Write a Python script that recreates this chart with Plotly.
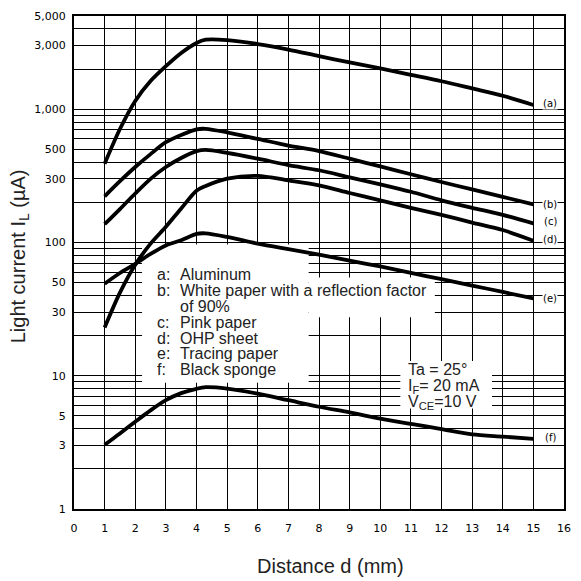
import math
import plotly.graph_objects as go

# distance d (mm) and light current IL (uA)
distance = [1, 1.5, 2, 2.5, 3, 3.5, 4, 4.3, 5, 6, 7, 8, 9, 10, 11, 12, 13, 14, 15]
aluminum = [390, 710, 1153, 1625, 2100, 2640, 3140, 3320, 3300, 3080, 2800, 2500, 2240, 2020, 1810, 1620, 1430, 1260, 1075]
white_paper = [222, 288, 368, 460, 565, 640, 705, 712, 670, 598, 533, 485, 425, 372, 325, 284, 250, 220, 193]
pink_paper = [137, 178, 233, 300, 368, 430, 484, 495, 470, 425, 380, 348, 308, 273, 240, 207, 182, 161, 139]
ohp_sheet = [23, 42, 68, 98, 131, 180, 244, 265, 301, 316, 292, 268, 235, 207, 182, 161, 141, 124, 103]
tracing_paper = [49, 59, 69, 82, 95, 104, 116, 117, 110, 98, 89, 81, 73, 66, 59, 53, 47.5, 42.5, 38]
black_sponge = [3.03, 3.69, 4.52, 5.5, 6.55, 7.4, 7.98, 8.2, 8.0, 7.33, 6.55, 5.85, 5.3, 4.77, 4.35, 3.98, 3.63, 3.49, 3.36]

curves = [aluminum, white_paper, pink_paper, ohp_sheet, tracing_paper, black_sponge]
curve_tags = ["(a)", "(b)", "(c)", "(d)", "(e)", "(f)"]
tag_y_px = [101, 203, 220, 238, 297, 437]

legend_keys = ["a:", "b:", "", "c:", "d:", "e:", "f:"]
legend_texts = ["Aluminum", "White paper with a reflection factor", "of 90%",
                "Pink paper", "OHP sheet", "Tracing paper", "Black sponge"]
legend_y_px = [273, 289.5, 305.5, 321, 337, 353, 369]

cond_texts = ["Ta = 25°", "I<sub>F</sub>= 20 mA", "V<sub>CE</sub>=10 V"]
cond_y_px = [369, 386, 402]

x_ticks = list(range(0, 17))
y_major = [1, 3, 5, 10, 30, 50, 100, 300, 500, 1000, 3000, 5000]
y_major_text = ["1", "3", "5", "10", "30", "50", "100", "300", "500", "1,000", "3,000", "5,000"]
y_minor = [m * 10 ** e for e in range(0, 4) for m in range(1, 10) if m * 10 ** e < 5000]
y_minor = [v for v in y_minor + [4000] if v not in y_major]

W, H = 581, 581
L, R, T, B = 74, 10, 13, 72
pw, ph = W - L - R, H - T - B
YTOP = math.log10(5000)


def px(x):
    return (x - L) / pw


def py(y):
    return (H - B - y) / ph


def dx(x):
    return (x - L) / pw * 16


def dy(y):
    return 10 ** ((H - B - y) / ph * YTOP)


fig = go.Figure()
for vals in curves:
    fig.add_trace(go.Scatter(x=distance, y=vals, mode="lines",
                             line=dict(color="black", width=3.8, shape="spline", smoothing=0.8),
                             showlegend=False, hoverinfo="skip"))

# white patches behind the text blocks (grid hidden, curves kept)
shapes = []
for x0, x1, y0, y1 in [(143, 312, 243, 382), (312, 440, 276, 316), (405, 498, 360, 408)]:
    shapes.append(dict(type="rect", xref="x", yref="y", layer="between",
                       x0=dx(x0), x1=dx(x1), y0=dy(y1), y1=dy(y0),
                       fillcolor="white", line=dict(width=0)))

ann = []
txt_font = dict(family="Liberation Sans, Arial", size=16, color="#222")
for k, t, y in zip(legend_keys, legend_texts, legend_y_px):
    if k:
        ann.append(dict(text=k, x=px(156), y=py(y), xref="paper", yref="paper",
                        xanchor="left", yanchor="middle", showarrow=False, font=txt_font))
    ann.append(dict(text=t, x=px(179), y=py(y), xref="paper", yref="paper",
                    xanchor="left", yanchor="middle", showarrow=False, font=txt_font))
for t, y in zip(cond_texts, cond_y_px):
    ann.append(dict(text=t, x=px(411), y=py(y), xref="paper", yref="paper",
                    xanchor="left", yanchor="middle", showarrow=False, font=txt_font))
for t, y in zip(curve_tags, tag_y_px):
    ann.append(dict(text=t, x=px(557), y=py(y), xref="paper", yref="paper",
                    xanchor="center", yanchor="middle", showarrow=False, bgcolor="white",
                    borderpad=0, font=dict(family="DejaVu Sans", size=10, color="black")))
ann.append(dict(text="Distance d (mm)", x=px(334), y=py(566), xref="paper", yref="paper",
                xanchor="center", yanchor="middle", showarrow=False,
                font=dict(family="Liberation Sans, Arial", size=20, color="#222")))
ann.append(dict(text="Light current I<sub>L</sub> (µA)", x=px(19), y=py(255), xref="paper",
                yref="paper", xanchor="center", yanchor="middle", textangle=-90, showarrow=False,
                font=dict(family="Liberation Sans, Arial", size=20, color="#222")))

fig.update_layout(
    width=W, height=H, margin=dict(l=L, r=R, t=T, b=B),
    paper_bgcolor="white", plot_bgcolor="white",
    shapes=shapes, annotations=ann,
    xaxis=dict(range=[0, 16], tickvals=x_ticks, ticktext=[str(v) for v in x_ticks],
               showgrid=True, gridcolor="black", gridwidth=1, zeroline=False,
               showline=True, linecolor="black", linewidth=2, mirror=True,
               ticks="", ticklabelstandoff=8,
               tickfont=dict(family="DejaVu Sans", size=11, color="black")),
    yaxis=dict(type="log", range=[0, YTOP], tickvals=y_major, ticktext=y_major_text,
               showgrid=True, gridcolor="black", gridwidth=1, zeroline=False,
               showline=True, linecolor="black", linewidth=2, mirror=True,
               ticks="", ticklabelstandoff=4,
               minor=dict(tickvals=y_minor, showgrid=True, gridcolor="black", gridwidth=1, ticks=""),
               tickfont=dict(family="DejaVu Sans", size=11, color="black")),
)

fig.write_html("out.html", config={"displayModeBar": False},
               post_script="document.body.style.margin='0';")
